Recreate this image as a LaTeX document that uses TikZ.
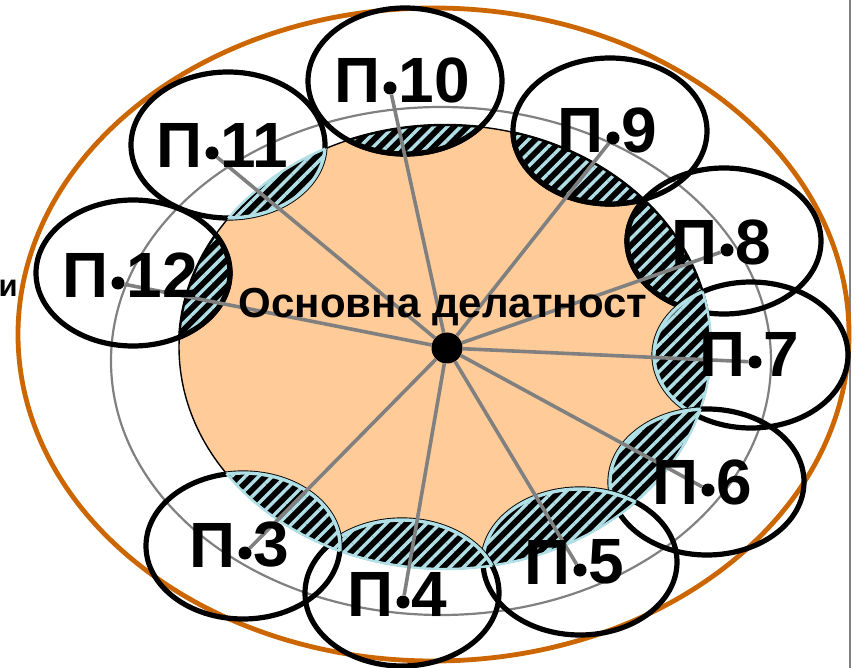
\documentclass[tikz,border=0pt]{standalone}
\usepackage{fontspec}
\setmainfont{Liberation Sans}
\usetikzlibrary{shapes.geometric, positioning, patterns.meta}
\definecolor{peach}{RGB}{255,204,153}
\definecolor{rimorange}{RGB}{204,102,0}
\definecolor{spokegray}{RGB}{128,128,128}
\definecolor{stripeblue}{RGB}{176,224,230}
\tikzstyle{core} = [ellipse, minimum width=532, minimum height=444, inner sep=0, draw=black, line width=1.4, fill=peach]
\tikzstyle{partner} = [ellipse, minimum width=194, minimum height=146, inner sep=0, draw=black, line width=5.2]
\tikzstyle{lens} = [fill=black, postaction={pattern={Lines[angle=45, distance=9.5pt, line width=3.4pt]}, pattern color=stripeblue}]
\tikzstyle{toprim} = [draw=black, line width=5.2]
\tikzstyle{underrim} = [draw=stripeblue, line width=3.4]
\tikzstyle{rim} = [draw=rimorange, line width=4.8]
\tikzstyle{orbit} = [draw=spokegray, line width=2.2]
\tikzstyle{spoke} = [draw=spokegray, line width=3.6]
\tikzstyle{pindot} = [circle, fill=black, inner sep=0, minimum size=13]
\tikzstyle{hub} = [circle, fill=black, inner sep=0, minimum size=31]
\tikzstyle{plabel} = [font=\bfseries\fontsize{64}{64}\selectfont, inner sep=0]

\begin{document}
\begin{tikzpicture}[x=1pt, y=-1pt]
    \useasboundingbox (0,0) rectangle (860,668);
    % slide edge
    \draw[spokegray, line width=1.5] (850,0) -- (850,668);
    % outer boundary
    \draw[rim] (433.5,334.5) ellipse (415.5pt and 326.5pt);
    % core activity
    \node[core] (core) at (445,347) {};
    \draw[orbit] (441,361) ellipse (330pt and 254pt);

    % partners and their overlaps with the core
    \foreach \n/\px/\py/\qx/\qy/\rimkind in {10/405/81/390/88/toprim, 9/610/131/613/138/toprim,
        8/724/241/727/250/toprim, 7/751/355/755/362/underrim, 6/707/482/708/490/underrim,
        5/580/562/580/570/underrim, 4/402/593/403/602/underrim, 3/243/546/245/553/underrim,
        12/133/273/118/283/toprim, 11/228/145/212/153/underrim}{
        \node[partner] (e\n) at (\px,\py) {};
        \begin{scope}
            \clip (core.center) ellipse (266pt and 222pt);
            \fill[lens] (e\n.center) ellipse (97pt and 73pt);
            \draw[\rimkind] (e\n.center) ellipse (97pt and 73pt);
        \end{scope}
        \begin{scope}
            \clip (e\n.center) ellipse (97pt and 73pt);
            \draw[\rimkind, line width=2.4] (core.center) ellipse (266pt and 222pt);
        \end{scope}
        \node[pindot] (d\n) at (\qx,\qy) {};
    }

    % spokes
    \node[hub] (hub) at (447,348) {};
    \foreach \n in {3,...,12}
        \draw[spoke] (hub) -- (d\n);

    % labels
    \foreach \n in {3,...,12}{
        \node[plabel, left=3pt of d\n, yshift=8pt] (p\n) {П};
        \node[plabel, right=2pt of d\n, yshift=8pt] (n\n) {\n};
    }
    \node[font=\bfseries\fontsize{42}{42}\selectfont, anchor=base, inner sep=0] (title) at (443,318) {Основна делатност};
    \node[font=\bfseries\fontsize{31}{31}\selectfont, anchor=base east, inner sep=0] (cut) at (18,297) {и};
\end{tikzpicture}
\end{document}
